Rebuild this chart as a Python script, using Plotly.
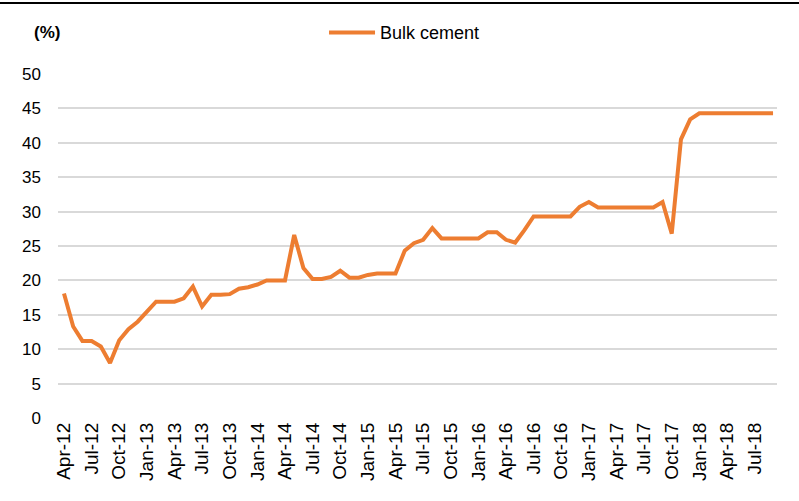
import plotly.graph_objects as go

months = [
    "Apr-12", "May-12", "Jun-12", "Jul-12", "Aug-12", "Sep-12", "Oct-12", "Nov-12", "Dec-12",
    "Jan-13", "Feb-13", "Mar-13", "Apr-13", "May-13", "Jun-13", "Jul-13", "Aug-13", "Sep-13", "Oct-13", "Nov-13", "Dec-13",
    "Jan-14", "Feb-14", "Mar-14", "Apr-14", "May-14", "Jun-14", "Jul-14", "Aug-14", "Sep-14", "Oct-14", "Nov-14", "Dec-14",
    "Jan-15", "Feb-15", "Mar-15", "Apr-15", "May-15", "Jun-15", "Jul-15", "Aug-15", "Sep-15", "Oct-15", "Nov-15", "Dec-15",
    "Jan-16", "Feb-16", "Mar-16", "Apr-16", "May-16", "Jun-16", "Jul-16", "Aug-16", "Sep-16", "Oct-16", "Nov-16", "Dec-16",
    "Jan-17", "Feb-17", "Mar-17", "Apr-17", "May-17", "Jun-17", "Jul-17", "Aug-17", "Sep-17", "Oct-17", "Nov-17", "Dec-17",
    "Jan-18", "Feb-18", "Mar-18", "Apr-18", "May-18", "Jun-18", "Jul-18", "Aug-18", "Sep-18",
]

bulk_cement = [
    18.1, 13.3, 11.2, 11.2, 10.4, 8.0, 11.3, 12.9, 14.0,
    15.5, 16.9, 16.9, 16.9, 17.4, 19.1, 16.2, 17.9, 17.9, 18.0, 18.8, 19.0,
    19.4, 20.0, 20.0, 20.0, 26.6, 21.8, 20.2, 20.2, 20.5, 21.4, 20.4, 20.4,
    20.8, 21.0, 21.0, 21.0, 24.3, 25.4, 25.9, 27.6, 26.1, 26.1, 26.1, 26.1,
    26.1, 27.0, 27.0, 25.9, 25.5, 27.3, 29.3, 29.3, 29.3, 29.3, 29.3, 30.7,
    31.4, 30.6, 30.6, 30.6, 30.6, 30.6, 30.6, 30.6, 31.4, 26.8, 40.5, 43.4,
    44.3, 44.3, 44.3, 44.3, 44.3, 44.3, 44.3, 44.3, 44.3,
]

tick_labels = [
    "Apr-12", "Jul-12", "Oct-12", "Jan-13", "Apr-13", "Jul-13", "Oct-13",
    "Jan-14", "Apr-14", "Jul-14", "Oct-14", "Jan-15", "Apr-15", "Jul-15", "Oct-15",
    "Jan-16", "Apr-16", "Jul-16", "Oct-16", "Jan-17", "Apr-17", "Jul-17", "Oct-17",
    "Jan-18", "Apr-18", "Jul-18",
]

y_ticks = [0, 5, 10, 15, 20, 25, 30, 35, 40, 45, 50]

FONT = "Liberation Sans, Arial, sans-serif"
ORANGE = "#ED7D31"

fig = go.Figure()
fig.add_trace(go.Scatter(
    x=months, y=bulk_cement, mode="lines", name="Bulk cement",
    line=dict(color=ORANGE, width=4),
))

fig.update_layout(
    width=799, height=501,
    margin=dict(l=58, r=22, t=74, b=83, autoexpand=False),
    paper_bgcolor="white", plot_bgcolor="white",
    font=dict(family=FONT, color="black", size=16),
    showlegend=True,
    legend=dict(
        orientation="h", x=0.37, y=1.12, xanchor="left", yanchor="middle",
        font=dict(size=18, family=FONT, color="black"),
        bgcolor="rgba(0,0,0,0)", borderwidth=0, itemwidth=46,
    ),
    xaxis=dict(
        type="category", range=[-0.65, 77.43],
        tickmode="array", tickvals=tick_labels, ticktext=tick_labels,
        tickangle=-90, tickfont=dict(size=19, family=FONT, color="black"),
        showgrid=False, zeroline=False, showline=False, ticks="",
        ticklabelstandoff=0,
    ),
    yaxis=dict(
        range=[0, 50], tickmode="array", tickvals=y_ticks,
        tickfont=dict(size=17, family=FONT, color="black"),
        showgrid=True, gridcolor="#D9D9D9", gridwidth=1.5,
        zeroline=False, showline=False, ticks="",
        ticklabelstandoff=16,
    ),
    annotations=[dict(
        text="<b>(%)</b>", xref="paper", yref="paper",
        x=-0.036, y=1.12, xanchor="left", yanchor="middle",
        showarrow=False, font=dict(size=17, family=FONT, color="black"),
    )],
    shapes=[dict(
        type="line", xref="paper", yref="paper",
        x0=-58 / 719, x1=1 + 22 / 719, y0=1 + 71 / 344, y1=1 + 71 / 344,
        line=dict(color="black", width=2),
    )],
)

fig.write_html(
    "out.html",
    config={"displayModeBar": False},
    post_script="document.body.style.margin='0';",
)
